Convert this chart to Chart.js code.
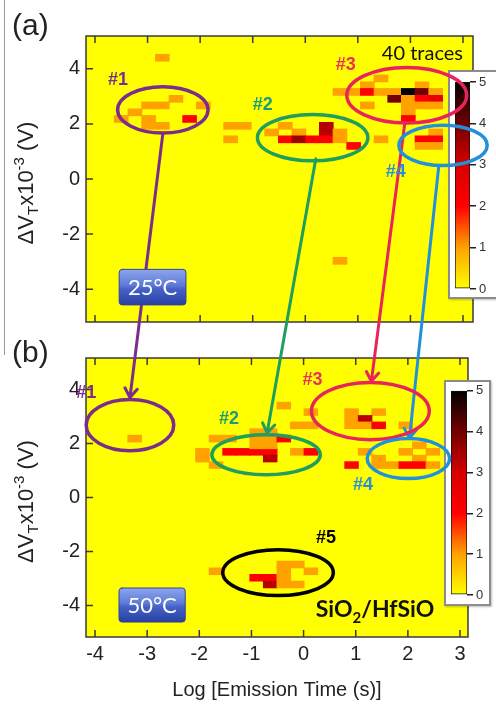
<!DOCTYPE html>
<html>
<head>
<meta charset="utf-8">
<script src="https://cdn.jsdelivr.net/npm/chart.js@4.4.1/dist/chart.umd.min.js"></script>
<style>
html, body { margin: 0; padding: 0; background: #fff; }
#wrap { position: relative; width: 496px; height: 705px; overflow: hidden; }
#wrap canvas { position: absolute; }
.frame { position: absolute; background: #fff; border: 2px solid #8c8c8c; box-sizing: border-box; box-shadow: 1px 1px 2px rgba(0,0,0,.25); }
#vline { position: absolute; left: 4px; top: 0; width: 1px; height: 355px; background: #9a9a9a; }
</style>
</head>
<body>
<div id="wrap">
  <div id="vline"></div>
  <canvas id="panelA" width="496" height="340" style="left:0;top:0"></canvas>
  <canvas id="panelB" width="496" height="365" style="left:0;top:340px"></canvas>
  <div class="frame" style="left:448px;top:70px;width:52px;height:229px"></div>
  <canvas id="barA" width="50" height="230" style="left:448px;top:70px"></canvas>
  <div class="frame" style="left:444px;top:380px;width:47px;height:226px"></div>
  <canvas id="barB" width="47" height="226" style="left:444px;top:380px"></canvas>
  <canvas id="over" width="496" height="705" style="left:0;top:0"></canvas>
</div>
<script>
const FONT = "'Liberation Sans', Arial, sans-serif";
const FONT2 = "Lato, 'Open Sans', sans-serif";

// tick labels
const xTickVals = [-4, -3, -2, -1, 0, 1, 2, 3];
const yTickVals = [-4, -2, 0, 2, 4];
const cbTickVals = [0, 1, 2, 3, 4, 5];

// colour map: number of traces per bin
const cmapLevels = [0, 1, 2, 3, 4, 5];
const cmapColors = ['#ffff00', '#ffa200', '#ff0000', '#d60000', '#720000', '#000000'];

// bin size (log decade, mV)
const binW = 0.26;
const binH = 0.245;

// (a) 25°C - bin centres and counts
const a25X = [-2.72, -2.46, -2.98, -2.72, -1.94, -3.24, -3.50, -2.98, -2.20, -2.98, -2.72, -1.42, -1.16, -1.42,
  -0.38, 0.40, -0.64, -0.12, 0.40, 0.66, -0.38, -0.12, 0.14, 0.40, 0.66, 0.92, 1.44,
  1.44, 1.18, 2.22, 0.66, 0.92, 1.18, 1.44, 1.70, 1.96, 2.22, 2.48, 1.70, 1.96, 2.22, 2.48, 1.18, 1.96, 2.22, 2.48, 1.96, 1.96,
  2.48, 2.22, 2.48, 2.22, 2.48, 0.66];
const a25Y = [4.40, 2.91, 2.67, 2.67, 2.67, 2.42, 2.18, 2.18, 2.18, 1.93, 1.93, 1.93, 1.93, 1.44,
  1.93, 1.93, 1.69, 1.69, 1.69, 1.69, 1.44, 1.44, 1.44, 1.44, 1.44, 1.20, 1.44,
  3.65, 3.40, 3.40, 3.16, 3.16, 3.16, 3.16, 3.16, 3.16, 3.16, 3.16, 2.91, 2.91, 2.91, 2.91, 2.67, 2.67, 2.67, 2.67, 2.42, 2.18,
  1.69, 1.44, 1.44, 1.20, 1.20, -2.97];
const a25N = [1, 1, 1, 1, 1, 1, 1, 1, 2, 1, 1, 1, 1, 1,
  1, 3.3, 1, 1, 3.3, 1, 2, 3.5, 2, 2, 1, 2, 1,
  1, 1, 1, 1, 1, 2, 1, 1, 5, 4, 1, 4, 1, 2, 2.6, 1, 1, 1, 1, 1, 2,
  1, 2, 2, 1, 1, 1];

// (b) 50°C
const b50X = [-3.24,
  -1.94, -1.94, -1.68, -1.68, -1.42, -1.42, -1.16, -0.90, -0.64, -0.90, -0.64, -0.90, -0.64, -0.90, -0.64,
  -0.64, -0.38, -0.38, -0.12, 0.14, 0.14, -0.12, 0.14,
  0.92, 1.44, 0.92, 1.18, 0.92, 1.18, 1.44, 1.96,
  2.22, 1.18, 1.96, 2.48, 1.44, 2.22, 0.92, 1.44, 1.70, 1.96, 2.22, 2.48,
  -1.68, -0.38, -0.12, -0.38, 0.14, -0.90, -0.64, -0.38, -0.64, -0.38, -0.12];
const b50Y = [2.18,
  1.69, 1.44, 1.20, 2.18, 2.18, 1.69, 1.69, 1.69, 1.69, 2.42, 2.42, 2.18, 2.18, 1.93, 1.93,
  1.44, 2.18, 3.40, 2.67, 2.67, 3.16, 1.69, 1.69,
  3.16, 3.16, 2.91, 2.91, 2.67, 2.67, 2.67, 2.67,
  1.93, 1.69, 1.69, 1.69, 1.44, 1.44, 1.20, 1.20, 1.20, 1.20, 1.20, 1.20,
  -2.73, -2.48, -2.48, -2.73, -2.73, -2.97, -2.97, -2.97, -3.22, -3.22, -3.22];
const b50N = [1,
  1, 1, 1, 1, 1, 2, 2, 2, 2, 1, 1, 1, 1, 1, 1,
  3.3, 2, 1, 1, 1, 1, 1, 2,
  1, 1, 1, 3.3, 1, 1, 2, 1,
  1, 1, 1, 1, 1, 1, 2, 1, 1, 2, 2, 1,
  1, 1, 1, 1, 1, 2, 2, 1, 3.3, 1, 1];

// cluster annotations (data units)
const tagNames = ['#1', '#2', '#3', '#4', '#5'];
const tagColors = ['#7b2d8b', '#1a9c7c', '#e8325a', '#2a8fd4', '#000000'];
const ringColors = ['#7b2d8b', '#1f9e5e', '#e8245c', '#2391d9', '#000000'];
const ringAX = [-2.71, 0.14, 1.93, 2.62];
const ringAY = [2.51, 1.50, 3.04, 1.22];
const ringARX = [0.86, 1.05, 1.14, 0.84];
const ringARY = [0.84, 0.84, 1.01, 0.73];
const tagAX = [-3.56, -0.81, 0.77, 1.72];
const tagAY = [3.60, 2.69, 4.12, 0.24];
const ringBX = [-3.33, -0.72, 1.28, 2.01, -0.49];
const ringBY = [2.68, 1.58, 3.20, 1.44, -2.78];
const ringBRX = [0.84, 1.04, 1.13, 0.79, 1.06];
const ringBRY = [0.95, 0.74, 1.06, 0.74, 0.85];
const tagBX = [-4.17, -1.43, 0.17, 1.14, 0.43];
const tagBY = [3.87, 2.89, 4.33, 0.46, -1.51];
// arrows from (a) clusters to (b) clusters
const arrowFromX = [-2.71, 0.20, 1.89, 2.54];
const arrowFromY = [1.64, 0.73, 1.99, 0.49];
const arrowToX = [-3.33, -0.70, 1.30, 2.03];
const arrowToY = [3.70, 2.39, 4.30, 2.20];

function hexRgb(h) { return [1, 3, 5].map(i => parseInt(h.substr(i, 2), 16)); }

function colorFor(v) {
  v = Math.max(cmapLevels[0], Math.min(cmapLevels[cmapLevels.length - 1], v));
  let k = 0;
  while (k < cmapLevels.length - 2 && v > cmapLevels[k + 1]) k++;
  const t = (v - cmapLevels[k]) / (cmapLevels[k + 1] - cmapLevels[k]);
  const a = hexRgb(cmapColors[k]), b = hexRgb(cmapColors[k + 1]);
  return 'rgb(' + a.map((c, i) => Math.round(c + (b[i] - c) * t)).join(',') + ')';
}

// yellow background, frame, inner ticks, y title
const panelDeco = {
  id: 'panelDeco',
  beforeDatasetsDraw(chart) {
    const { ctx, chartArea: a } = chart;
    ctx.save();
    ctx.fillStyle = cmapColors[0];
    ctx.fillRect(a.left, a.top, a.width, a.height);
    ctx.restore();
  },
  afterDatasetsDraw(chart) {
    const { ctx, chartArea: a, scales: { x, y } } = chart;
    ctx.save();
    ctx.strokeStyle = '#3a3a3a';
    ctx.lineWidth = 1.5;
    ctx.beginPath();
    x.ticks.forEach(t => {
      const px = x.getPixelForValue(t.value);
      ctx.moveTo(px, a.bottom); ctx.lineTo(px, a.bottom - 7);
      ctx.moveTo(px, a.top); ctx.lineTo(px, a.top + 7);
    });
    y.ticks.forEach(t => {
      const py = y.getPixelForValue(t.value);
      ctx.moveTo(a.left, py); ctx.lineTo(a.left + 7, py);
    });
    ctx.stroke();
    ctx.strokeRect(a.left, a.top, a.width, a.height);
    ctx.restore();
  },
  afterDraw(chart) {
    const { ctx, chartArea: a } = chart;
    const parts = [
      { t: '\u0394V', s: 22, dy: 0 },
      { t: 'T', s: 15, dy: 5 },
      { t: 'x10', s: 22, dy: 0 },
      { t: '-3', s: 15, dy: -9 },
      { t: ' (V)', s: 22, dy: 0 }
    ];
    ctx.save();
    ctx.translate(25, (a.top + a.bottom) / 2 + 4);
    ctx.rotate(-Math.PI / 2);
    ctx.fillStyle = '#222';
    ctx.textBaseline = 'alphabetic';
    let total = 0;
    parts.forEach(p => { ctx.font = p.s + 'px ' + FONT; p.w = ctx.measureText(p.t).width; total += p.w; });
    let cx = -total / 2;
    parts.forEach(p => {
      ctx.font = p.s + 'px ' + FONT;
      ctx.fillText(p.t, cx, 8 + p.dy);
      cx += p.w;
    });
    ctx.restore();
  }
};

function makePanel(id, xs, ys, ns, lim, pad, xAxisH, showX) {
  return new Chart(document.getElementById(id), {
    type: 'bar',
    data: {
      datasets: [{
        data: xs.map((x, i) => ({ x: x, y: [ys[i] - binH / 2 - 0.005, ys[i] + binH / 2 + 0.005] })),
        backgroundColor: ns.map(colorFor),
        borderWidth: 0,
        barThickness: 14
      }]
    },
    options: {
      responsive: false,
      animation: false,
      events: [],
      layout: { padding: pad },
      plugins: { legend: { display: false }, tooltip: { enabled: false } },
      scales: {
        x: {
          type: 'linear', offset: false, min: lim[0], max: lim[1],
          afterBuildTicks: s => { s.ticks = xTickVals.map(v => ({ value: v })); },
          grid: { display: false, drawTicks: false },
          border: { display: false },
          ticks: { display: showX, autoSkip: false, maxRotation: 0, font: { family: FONT, size: 20 }, color: '#222', padding: 5 },
          title: { display: showX, text: 'Log [Emission Time (s)]', font: { family: FONT, size: 20 }, color: '#222', padding: { top: 4, bottom: 3 } },
          afterFit: s => { s.height = xAxisH; }
        },
        y: {
          type: 'linear', min: lim[2], max: lim[3],
          afterBuildTicks: s => { s.ticks = yTickVals.map(v => ({ value: v })); },
          grid: { display: false, drawTicks: false },
          border: { display: false },
          ticks: { font: { family: FONT, size: 20 }, color: '#222', padding: 6 },
          afterFit: s => { s.width = 86; }
        }
      }
    },
    plugins: [panelDeco]
  });
}

function makeBar(id, pad, axisW) {
  return new Chart(document.getElementById(id), {
    type: 'bar',
    data: {
      labels: ['n'],
      datasets: [{
        data: [[cmapLevels[0], cmapLevels[cmapLevels.length - 1]]],
        backgroundColor: ctx => {
          const ch = ctx.chart;
          if (!ch.chartArea) return cmapColors[0];
          const y = ch.scales.y;
          const top = cmapLevels[cmapLevels.length - 1];
          const g = ch.ctx.createLinearGradient(0, y.getPixelForValue(0), 0, y.getPixelForValue(top));
          cmapLevels.forEach((v, i) => g.addColorStop(v / top, cmapColors[i]));
          return g;
        },
        borderColor: '#111',
        borderWidth: 1,
        borderSkipped: false,
        barPercentage: 1,
        categoryPercentage: 1
      }]
    },
    options: {
      responsive: false,
      animation: false,
      events: [],
      layout: { padding: pad },
      plugins: { legend: { display: false }, tooltip: { enabled: false } },
      scales: {
        x: { display: false },
        y: {
          position: 'right', min: 0, max: 5,
          afterBuildTicks: s => { s.ticks = cbTickVals.map(v => ({ value: v })); },
          grid: { drawOnChartArea: false, tickLength: 6, color: '#222', lineWidth: 1.5 },
          border: { display: false },
          ticks: { font: { family: FONT, size: 13 }, color: '#333', padding: 3 },
          afterFit: s => { s.width = axisW; }
        }
      }
    }
  });
}

const chartA = makePanel('panelA', a25X, a25Y, a25N, [-4.171, 3.19, -5.19, 5.19], { left: 0, top: 36, right: 23, bottom: 0 }, 7, false);
const chartB = makePanel('panelB', b50X, b50Y, b50N, [-4.173, 3.153, -5.163, 5.163], { left: 0, top: 4, right: 28, bottom: 0 }, 68, true);

// cell width from the x scale
[chartA, chartB].forEach(ch => {
  const sx = ch.scales.x;
  ch.data.datasets[0].barThickness = sx.getPixelForValue(binW) - sx.getPixelForValue(0) + 0.3;
  ch.update();
});

makeBar('barA', { left: 7, top: 12, right: 0, bottom: 11 }, 28);
makeBar('barB', { left: 7, top: 10, right: 0, bottom: 11 }, 24);

function drawOverlay() {
  const g = document.getElementById('over').getContext('2d');
  const P = (ch, top, x, y) => [ch.scales.x.getPixelForValue(x), ch.scales.y.getPixelForValue(y) + top];
  g.lineCap = 'round';
  g.lineJoin = 'round';

  // arrows
  arrowFromX.forEach((_, k) => {
    const p = P(chartA, 0, arrowFromX[k], arrowFromY[k]);
    const q = P(chartB, 340, arrowToX[k], arrowToY[k]);
    const ang = Math.atan2(q[1] - p[1], q[0] - p[0]);
    g.strokeStyle = ringColors[k];
    g.lineWidth = 3;
    g.beginPath();
    g.moveTo(p[0], p[1]);
    g.lineTo(q[0], q[1]);
    [-1, 1].forEach(s => {
      g.moveTo(q[0], q[1]);
      g.lineTo(q[0] - 11 * Math.cos(ang + s * 0.6), q[1] - 11 * Math.sin(ang + s * 0.6));
    });
    g.stroke();
  });

  function rings(ch, top, X, Y, RX, RY, TX, TY) {
    X.forEach((_, k) => {
      const c = P(ch, top, X[k], Y[k]);
      const rx = Math.abs(ch.scales.x.getPixelForValue(X[k] + RX[k]) - c[0]);
      const ry = Math.abs(ch.scales.y.getPixelForValue(Y[k] + RY[k]) + top - c[1]);
      g.strokeStyle = ringColors[k];
      g.lineWidth = 3.5;
      g.beginPath();
      g.ellipse(c[0], c[1], rx, ry, 0, 0, Math.PI * 2);
      g.stroke();
    });
    TX.forEach((_, k) => {
      const c = P(ch, top, TX[k], TY[k]);
      g.fillStyle = tagColors[k];
      g.font = 'bold 18px ' + FONT;
      g.textAlign = 'center';
      g.textBaseline = 'middle';
      g.fillText(tagNames[k], c[0], c[1]);
    });
  }
  rings(chartA, 0, ringAX, ringAY, ringARX, ringARY, tagAX, tagAY);
  rings(chartB, 340, ringBX, ringBY, ringBRX, ringBRY, tagBX, tagBY);

  function tempBox(ch, top, x0, x1, y0, y1, text) {
    const [l, t] = P(ch, top, x0, y0);
    const [r, b] = P(ch, top, x1, y1);
    const grad = g.createLinearGradient(0, t, 0, b);
    grad.addColorStop(0, '#8ea6ec');
    grad.addColorStop(0.45, '#5d7ad8');
    grad.addColorStop(0.55, '#4662c6');
    grad.addColorStop(1, '#2a40a2');
    g.fillStyle = grad;
    g.strokeStyle = '#2c44a4';
    g.lineWidth = 1;
    g.beginPath();
    g.roundRect(l, t, r - l, b - t, 3);
    g.fill();
    g.stroke();
    g.fillStyle = '#ffffff';
    g.font = '22px ' + FONT2;
    g.textAlign = 'center';
    g.textBaseline = 'middle';
    g.fillText(text, (l + r) / 2, (t + b) / 2 + 1);
  }
  tempBox(chartA, 0, -3.54, -2.27, -3.28, -4.57, '25\u00B0C');
  tempBox(chartB, 340, -3.54, -2.27, -3.35, -4.61, '50\u00B0C');

  // "40 traces"
  let p = P(chartA, 0, 3.0, 4.54);
  g.fillStyle = '#111';
  g.font = '20px ' + FONT2;
  g.textAlign = 'right';
  g.textBaseline = 'middle';
  g.fillText('40 traces', p[0], p[1]);

  // SiO2/HfSiO
  p = P(chartB, 340, 1.37, -4.44);
  const segs = [{ t: 'SiO', s: 23, dy: 0 }, { t: '2', s: 15, dy: 6 }, { t: '/HfSiO', s: 23, dy: 0 }];
  let tw = 0;
  segs.forEach(sg => { g.font = 'bold ' + sg.s + 'px ' + FONT2; sg.w = g.measureText(sg.t).width; tw += sg.w; });
  let cx = p[0] - tw / 2;
  g.textAlign = 'left';
  g.textBaseline = 'alphabetic';
  segs.forEach(sg => {
    g.font = 'bold ' + sg.s + 'px ' + FONT2;
    g.fillText(sg.t, cx, p[1] + sg.dy);
    cx += sg.w;
  });

  // panel letters
  g.fillStyle = '#222';
  g.font = '30px ' + FONT;
  g.fillText('(a)', 12, 35);
  g.fillText('(b)', 12, 362);
}
drawOverlay();
</script>
</body>
</html>
